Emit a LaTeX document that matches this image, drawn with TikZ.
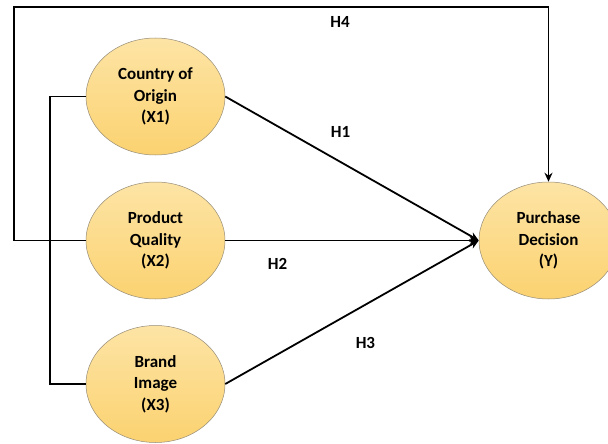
\documentclass[tikz,border=0pt]{standalone}
\usepackage{fontspec}
\setmainfont{Carlito}
\usepackage{tikz}
\usetikzlibrary{positioning}
\usetikzlibrary{shapes.geometric}
\usetikzlibrary{arrows.meta}

\definecolor{varTop}{RGB}{253,228,165}
\definecolor{varBottom}{RGB}{251,210,112}
\definecolor{varLine}{RGB}{150,140,120}

\tikzset{
  var/.style={ellipse,draw=varLine,line width=0.5pt,top color=varTop,bottom color=varBottom,
    minimum width=139pt,minimum height=117pt,inner sep=0pt,align=center,
    font=\fontsize{17}{21.5}\selectfont\bfseries},
  hyp/.style={font=\fontsize{17}{19}\selectfont\bfseries},
  link/.style={line width=1.8pt},
}

\begin{document}
\begin{tikzpicture}[x=1pt,y=-1pt]
\useasboundingbox (0,0) rectangle (608,444);

\node[var] (coo) at (155.5,96.5) {Country of\\Origin\\(X1)};
\node[var] (pq) at (155.5,240.5) {Product\\Quality\\(X2)};
\node[var] (bi) at (155.5,384) {Brand\\Image\\(X3)};
\node[var] (pd) at (548.5,240.5) {Purchase\\Decision\\(Y)};

\coordinate (corner) at (14,7);

% bracket joining the three predictors
\draw[link] (coo.west) -- ++(-36,0) |- (bi.west);

% direct paths
\path[link,-{Stealth[length=9pt,width=8pt]}]
  (coo.east) edge node[hyp,pos=.455,yshift=30pt] {H1} (pd.west)
  (pq.east) edge node[hyp,pos=.206,yshift=-23pt] {H2} (pd.west)
  (bi.east) edge node[hyp,pos=.553,yshift=-38pt] {H3} (pd.west)
  ;

% joint effect
\draw[link,-{Stealth[length=9pt,width=8pt]}] (pq.west) -| (corner)
  -| node[hyp,pos=.305,yshift=-15pt] {H4} (pd.north);
\end{tikzpicture}
\end{document}
